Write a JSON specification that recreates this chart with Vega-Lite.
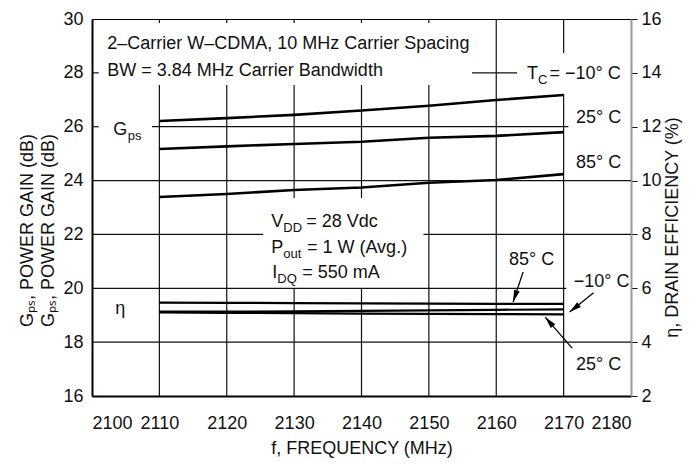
{
  "$schema": "https://vega.github.io/schema/vega-lite/v6.json",
  "width": 539,
  "height": 377,
  "autosize": "none",
  "padding": {"left": 92, "top": 19, "right": 67, "bottom": 74},
  "background": "white",
  "datasets": {
    "gps": [
      {"f": 2110, "g": 26.21, "tc": "-10"}, {"f": 2120, "g": 26.32, "tc": "-10"}, {"f": 2130, "g": 26.44, "tc": "-10"}, {"f": 2140, "g": 26.6, "tc": "-10"}, {"f": 2150, "g": 26.78, "tc": "-10"}, {"f": 2160, "g": 26.99, "tc": "-10"}, {"f": 2170, "g": 27.18, "tc": "-10"},
      {"f": 2110, "g": 25.17, "tc": "25"}, {"f": 2120, "g": 25.27, "tc": "25"}, {"f": 2130, "g": 25.36, "tc": "25"}, {"f": 2140, "g": 25.44, "tc": "25"}, {"f": 2150, "g": 25.59, "tc": "25"}, {"f": 2160, "g": 25.66, "tc": "25"}, {"f": 2170, "g": 25.8, "tc": "25"},
      {"f": 2110, "g": 23.39, "tc": "85"}, {"f": 2120, "g": 23.5, "tc": "85"}, {"f": 2130, "g": 23.65, "tc": "85"}, {"f": 2140, "g": 23.74, "tc": "85"}, {"f": 2150, "g": 23.92, "tc": "85"}, {"f": 2160, "g": 24.02, "tc": "85"}, {"f": 2170, "g": 24.24, "tc": "85"}
    ],
    "eff": [
      {"f": 2110, "eta": 5.47, "tc": "85"}, {"f": 2120, "eta": 5.46, "tc": "85"}, {"f": 2130, "eta": 5.45, "tc": "85"}, {"f": 2140, "eta": 5.44, "tc": "85"}, {"f": 2150, "eta": 5.43, "tc": "85"}, {"f": 2160, "eta": 5.42, "tc": "85"}, {"f": 2170, "eta": 5.42, "tc": "85"},
      {"f": 2110, "eta": 5.13, "tc": "-10"}, {"f": 2120, "eta": 5.13, "tc": "-10"}, {"f": 2130, "eta": 5.14, "tc": "-10"}, {"f": 2140, "eta": 5.16, "tc": "-10"}, {"f": 2150, "eta": 5.18, "tc": "-10"}, {"f": 2160, "eta": 5.2, "tc": "-10"}, {"f": 2170, "eta": 5.22, "tc": "-10"},
      {"f": 2110, "eta": 5.1, "tc": "25"}, {"f": 2120, "eta": 5.09, "tc": "25"}, {"f": 2130, "eta": 5.08, "tc": "25"}, {"f": 2140, "eta": 5.06, "tc": "25"}, {"f": 2150, "eta": 5.05, "tc": "25"}, {"f": 2160, "eta": 5.04, "tc": "25"}, {"f": 2170, "eta": 5.03, "tc": "25"}
    ],
    "grid": [
      {"f1": 2110, "f2": 2110, "g1": 16, "g2": 27.55}, {"f1": 2120, "f2": 2120, "g1": 16, "g2": 27.55},
      {"f1": 2130, "f2": 2130, "g1": 16, "g2": 20}, {"f1": 2130, "f2": 2130, "g1": 23.35, "g2": 27.55},
      {"f1": 2140, "f2": 2140, "g1": 16, "g2": 20}, {"f1": 2140, "f2": 2140, "g1": 23.35, "g2": 27.55},
      {"f1": 2150, "f2": 2150, "g1": 16, "g2": 27.55}, {"f1": 2160, "f2": 2160, "g1": 16, "g2": 30},
      {"f1": 2170, "f2": 2170, "g1": 16, "g2": 27.21}, {"f1": 2170, "f2": 2170, "g1": 28.74, "g2": 30},
      {"f1": 2110, "f2": 2110, "g1": 29.85, "g2": 30}, {"f1": 2120, "f2": 2120, "g1": 29.85, "g2": 30}, {"f1": 2130, "f2": 2130, "g1": 29.85, "g2": 30}, {"f1": 2140, "f2": 2140, "g1": 29.85, "g2": 30}, {"f1": 2150, "f2": 2150, "g1": 29.85, "g2": 30},
      {"f1": 2100, "f2": 2180, "g1": 18, "g2": 18}, {"f1": 2100, "f2": 2170.4, "g1": 20, "g2": 20},
      {"f1": 2100, "f2": 2125.4, "g1": 22, "g2": 22}, {"f1": 2149.2, "f2": 2180, "g1": 22, "g2": 22},
      {"f1": 2100, "f2": 2180, "g1": 24, "g2": 24},
      {"f1": 2100, "f2": 2101, "g1": 26, "g2": 26}, {"f1": 2108.9, "f2": 2170.7, "g1": 26, "g2": 26},
      {"f1": 2100, "f2": 2101, "g1": 28, "g2": 28}, {"f1": 2156.4, "f2": 2163.1, "g1": 28, "g2": 28}
    ],
    "labels": [
      {"label": "2–Carrier W–CDMA, 10 MHz Carrier Spacing", "f": 2102.27, "g": 28.87},
      {"label": "BW = 3.84 MHz Carrier Bandwidth", "f": 2102.27, "g": 27.88},
      {"label": "T", "f": 2164.56, "g": 27.77},
      {"label": "= −10° C", "f": 2167.9, "g": 27.77},
      {"label": "25° C", "f": 2171.84, "g": 26.14},
      {"label": "85° C", "f": 2171.84, "g": 24.47},
      {"label": "G", "f": 2103.16, "g": 25.69},
      {"label": "V", "f": 2126.6, "g": 22.29},
      {"label": "= 28 Vdc", "f": 2131.8, "g": 22.29},
      {"label": "P", "f": 2126.6, "g": 21.32},
      {"label": "= 1 W (Avg.)", "f": 2131.9, "g": 21.32},
      {"label": "I", "f": 2126.75, "g": 20.37},
      {"label": "= 550 mA", "f": 2131.2, "g": 20.37},
      {"label": "η", "f": 2103.46, "g": 19.05},
      {"label": "85° C", "f": 2161.9, "g": 20.87},
      {"label": "−10° C", "f": 2171.5, "g": 20.05},
      {"label": "25° C", "f": 2171.84, "g": 16.97}
    ],
    "subs": [
      {"label": "C", "f": 2166.2, "g": 27.59},
      {"label": "ps", "f": 2105.3, "g": 25.51},
      {"label": "DD", "f": 2128.4, "g": 22.1},
      {"label": "out", "f": 2128.4, "g": 21.13},
      {"label": "DQ", "f": 2127.5, "g": 20.18}
    ],
    "arrows": [
      {"name": "85", "f1": 2163.99, "g1": 20.61, "f2": 2162.5, "g2": 19.49},
      {"name": "-10", "f1": 2174.45, "g1": 19.83, "f2": 2170.89, "g2": 19.12},
      {"name": "25", "f1": 2171.26, "g1": 17.78, "f2": 2167.25, "g2": 18.93}
    ]
  },
  "layer": [
    {
      "layer": [
        {
          "data": {"name": "grid"},
          "mark": {"type": "rule", "color": "#111", "strokeWidth": 1.2},
          "encoding": {
            "x": {"field": "f1", "type": "quantitative", "scale": {"domain": [2100, 2180], "nice": false, "zero": false},
              "axis": {"title": "f, FREQUENCY (MHz)", "values": [2100, 2110, 2120, 2130, 2140, 2150, 2160, 2170, 2180], "format": "d", "domainWidth": 2, "labelPadding": 18, "titleBaseline": "alphabetic", "titleY": 57}},
            "x2": {"field": "f2"},
            "y": {"field": "g1", "type": "quantitative", "scale": {"domain": [16, 30], "nice": false, "zero": false},
              "axis": {"title": ["Gₚₛ, POWER GAIN (dB)", "Gₚₛ, POWER GAIN (dB)"], "values": [16, 18, 20, 22, 24, 26, 28, 30], "domainWidth": 2, "labelPadding": 9, "titleAngle": 270, "titleAlign": "center", "titleBaseline": "alphabetic", "titleX": -60, "titleY": 211, "titleLineHeight": 21}},
            "y2": {"field": "g2"}
          }
        },
        {
          "data": {"name": "gps"},
          "mark": {"type": "line", "color": "#000", "strokeWidth": 2.6},
          "encoding": {
            "x": {"field": "f", "type": "quantitative"},
            "y": {"field": "g", "type": "quantitative"},
            "detail": {"field": "tc"}
          }
        },
        {
          "data": {"name": "arrows"},
          "mark": {"type": "rule", "color": "#000", "strokeWidth": 1.3},
          "encoding": {
            "x": {"field": "f1", "type": "quantitative"},
            "x2": {"field": "f2"},
            "y": {"field": "g1", "type": "quantitative"},
            "y2": {"field": "g2"}
          }
        },
        {
          "data": {"name": "arrows"},
          "transform": [{"filter": "datum.name === '85'"}],
          "mark": {"type": "point", "shape": "M0,0L0.6,2.4L-0.6,2.4Z", "filled": true, "color": "#000", "size": 100, "angle": 198.4, "opacity": 1},
          "encoding": {"x": {"field": "f2", "type": "quantitative"}, "y": {"field": "g2", "type": "quantitative"}}
        },
        {
          "data": {"name": "arrows"},
          "transform": [{"filter": "datum.name === '-10'"}],
          "mark": {"type": "point", "shape": "M0,0L0.6,2.4L-0.6,2.4Z", "filled": true, "color": "#000", "size": 100, "angle": 231.6, "opacity": 1},
          "encoding": {"x": {"field": "f2", "type": "quantitative"}, "y": {"field": "g2", "type": "quantitative"}}
        },
        {
          "data": {"name": "arrows"},
          "transform": [{"filter": "datum.name === '25'"}],
          "mark": {"type": "point", "shape": "M0,0L0.6,2.4L-0.6,2.4Z", "filled": true, "color": "#000", "size": 100, "angle": 318.9, "opacity": 1},
          "encoding": {"x": {"field": "f2", "type": "quantitative"}, "y": {"field": "g2", "type": "quantitative"}}
        },
        {
          "data": {"name": "labels"},
          "mark": {"type": "text", "align": "left", "baseline": "alphabetic", "fontSize": 18, "color": "#111", "font": "Liberation Sans, sans-serif"},
          "encoding": {
            "x": {"field": "f", "type": "quantitative"},
            "y": {"field": "g", "type": "quantitative"},
            "text": {"field": "label"}
          }
        },
        {
          "data": {"name": "subs"},
          "mark": {"type": "text", "align": "left", "baseline": "alphabetic", "fontSize": 13, "color": "#111", "font": "Liberation Sans, sans-serif"},
          "encoding": {
            "x": {"field": "f", "type": "quantitative"},
            "y": {"field": "g", "type": "quantitative"},
            "text": {"field": "label"}
          }
        }
      ]
    },
    {
      "data": {"name": "eff"},
      "mark": {"type": "line", "color": "#000", "strokeWidth": 2.2},
      "encoding": {
        "x": {"field": "f", "type": "quantitative"},
        "y": {"field": "eta", "type": "quantitative", "scale": {"domain": [2, 16], "nice": false, "zero": false},
          "axis": {"orient": "right", "title": "η, DRAIN EFFICIENCY (%)", "values": [2, 4, 6, 8, 10, 12, 14, 16], "domainColor": "#999", "domainWidth": 2, "ticks": true, "tickSize": 6, "tickColor": "#111", "labelPadding": 4, "titleAngle": 270, "titleAlign": "center", "titleBaseline": "alphabetic", "titleX": 46, "titleY": 208}},
        "detail": {"field": "tc"}
      }
    }
  ],
  "resolve": {"scale": {"y": "independent"}},
  "config": {
    "font": "Liberation Sans, sans-serif",
    "view": {"stroke": "#000", "strokeWidth": 1},
    "axis": {
      "grid": false,
      "ticks": false,
      "domainColor": "#000",
      "labelFontSize": 18,
      "titleFontSize": 18,
      "titleFontWeight": "normal",
      "labelColor": "#111",
      "titleColor": "#111",
      "labelFont": "Liberation Sans, sans-serif",
      "titleFont": "Liberation Sans, sans-serif"
    }
  }
}
